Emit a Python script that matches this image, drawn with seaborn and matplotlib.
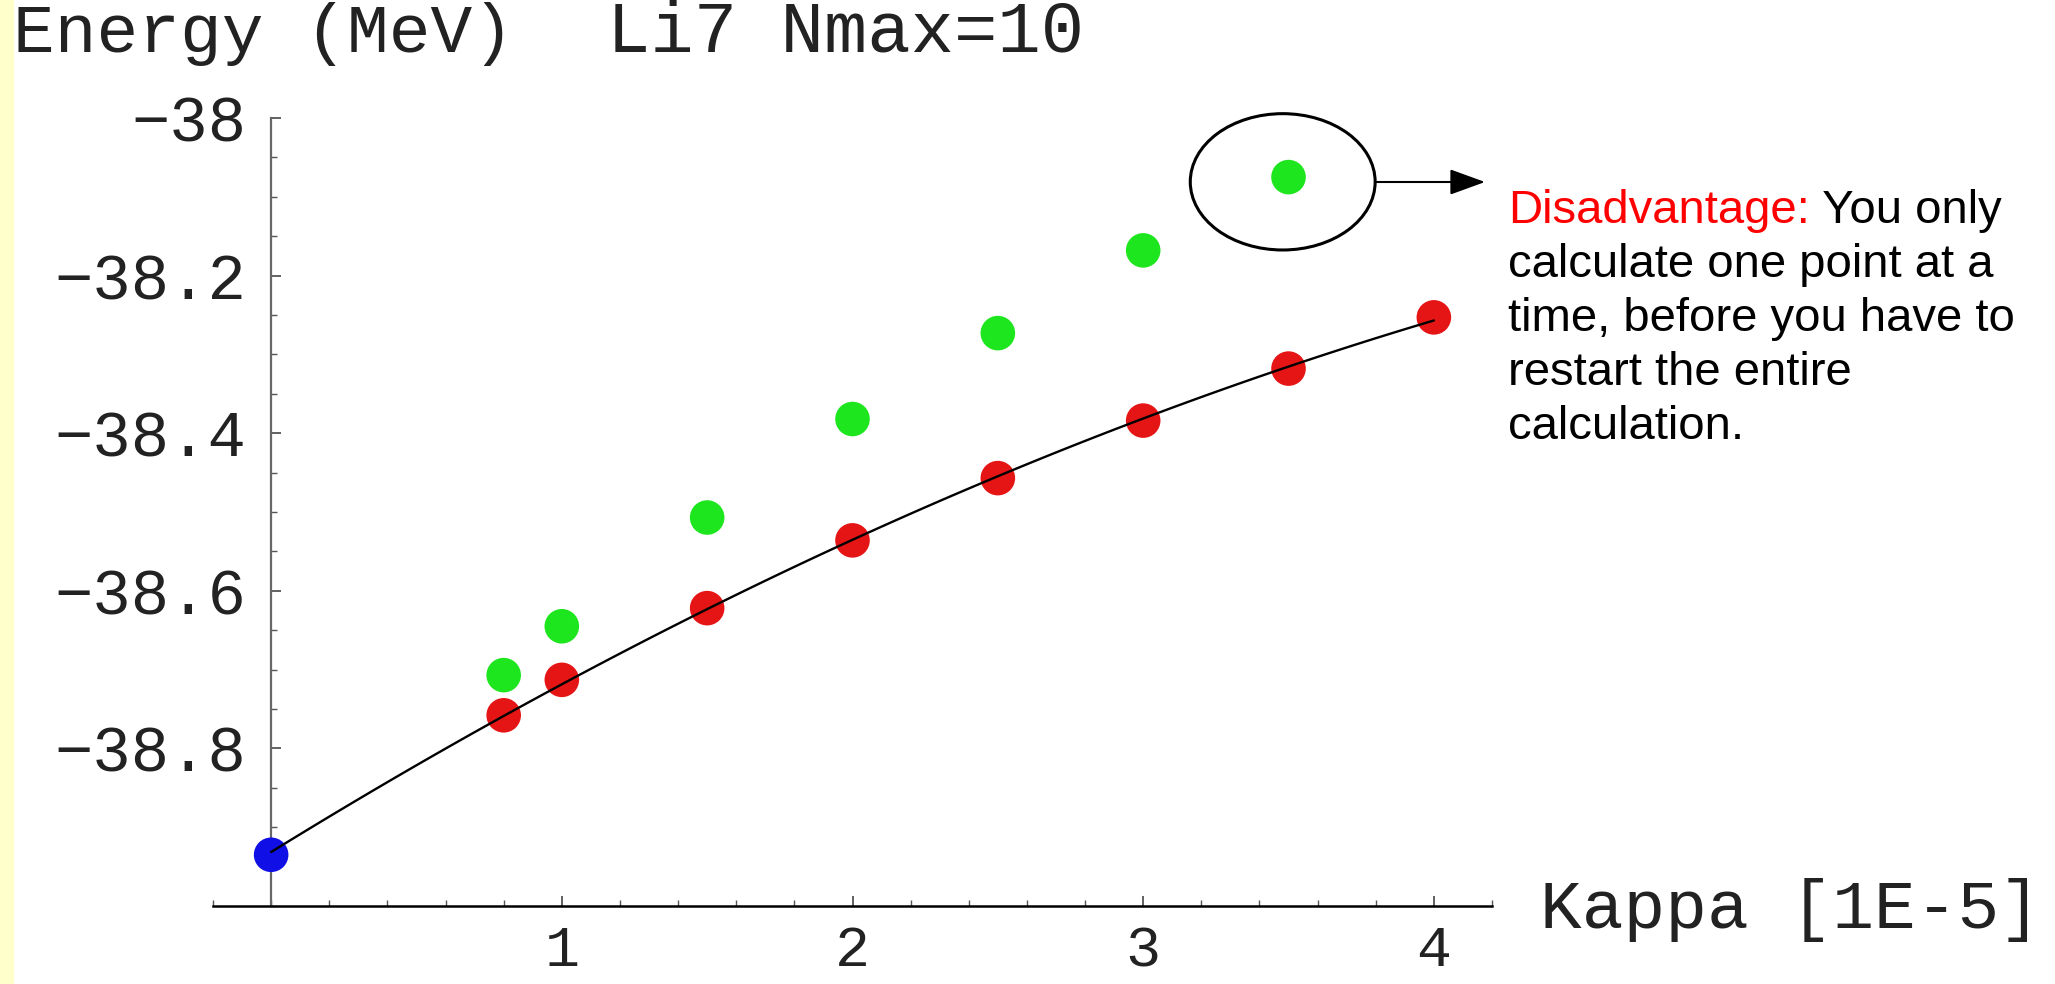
import numpy as np
import pandas as pd
import matplotlib
matplotlib.use("Agg")
import matplotlib.pyplot as plt
import seaborn as sns
from matplotlib.patches import Ellipse, Rectangle
from matplotlib.ticker import MultipleLocator

# ---- data ----
kappa_blue = [0.0]
energy_blue = [-38.935]
kappa_red = [0.8, 1.0, 1.5, 2.0, 2.5, 3.0, 3.5, 4.0]
energy_red = [-38.758, -38.713, -38.622, -38.536, -38.457, -38.384, -38.318, -38.253]
kappa_green = [0.8, 1.0, 1.5, 2.0, 2.5, 3.0, 3.5]
energy_green = [-38.707, -38.645, -38.507, -38.382, -38.273, -38.168, -38.075]

x_ticks = [1, 2, 3, 4]
x_tick_labels = ["1", "2", "3", "4"]
y_ticks = [-38.8, -38.6, -38.4, -38.2, -38.0]
y_tick_labels = ["\u221238.8", "\u221238.6", "\u221238.4", "\u221238.2", "\u221238"]

title_text = "Li7 Nmax=10"
y_label = "Energy (MeV)"
x_label = "Kappa [1E-5]"
note_red = "Disadvantage:"
note_lines = [" You only", "calculate one point at a", "time, before you have to",
              "restart the entire", "calculation."]

sns.set_style("white")
plt.rcParams["font.family"] = ["Liberation Mono", "DejaVu Sans"]

W, H = 2055, 984
fig = plt.figure(figsize=(W / 100, H / 100), dpi=100)
fig.patch.set_facecolor("white")
fig.patches.append(Rectangle((0, 0), 13 / W, 1, transform=fig.transFigure,
                             color="#ffffcc", zorder=-1))

# axes: x from -0.2 to 4.2 (213..1492 px), y from -39 (906 px) to -38 (118 px)
ax = fig.add_axes([213 / W, (H - 906) / H, (1492 - 213) / W, (906 - 118) / H])
ax.set_facecolor("none")

df = pd.DataFrame({
    "kappa": kappa_blue + kappa_red + kappa_green,
    "energy": energy_blue + energy_red + energy_green,
    "series": ["blue"] * len(kappa_blue) + ["red"] * len(kappa_red) + ["green"] * len(kappa_green),
})
pal = {"blue": "#1010e6", "red": "#e61515", "green": "#1ee61e"}

fit_df = df[df["series"].isin(["blue", "red"])]
sns.regplot(data=fit_df, x="kappa", y="energy", order=2, ci=None, scatter=False,
            truncate=True, line_kws=dict(color="black", lw=1.7, zorder=5), ax=ax)

sns.scatterplot(data=df, x="kappa", y="energy", hue="series", palette=pal, s=620,
                linewidth=0, legend=False, zorder=4, clip_on=False, ax=ax)

ax.set_xlim(-0.2, 4.2)
ax.set_ylim(-39, -38)
ax.set_xlabel("")
ax.set_ylabel("")

for s in ["top", "right"]:
    ax.spines[s].set_visible(False)
ax.spines["left"].set_position(("data", 0))
ax.spines["left"].set_color("#666666")
ax.spines["left"].set_linewidth(1.6)
ax.spines["bottom"].set_color("black")
ax.spines["bottom"].set_linewidth(1.8)

ax.set_xticks(x_ticks, x_tick_labels)
ax.set_yticks(y_ticks, y_tick_labels)
ax.xaxis.set_minor_locator(MultipleLocator(0.2))
ax.yaxis.set_minor_locator(MultipleLocator(0.05))
ax.tick_params(axis="both", which="both", direction="in", color="#555555",
               bottom=True, left=True, top=False, right=False)
ax.tick_params(axis="x", which="major", length=7, width=1.3, pad=13, labelsize=42)
ax.tick_params(axis="x", which="minor", length=4, width=1.0)
ax.tick_params(axis="y", which="major", length=7, width=1.3, pad=18, labelsize=46)
ax.tick_params(axis="y", which="minor", length=4, width=1.0)
for lab in ax.get_xticklabels() + ax.get_yticklabels():
    lab.set_color("#222222")

fig.text(13 / W, 1 - 52 / H, y_label, fontsize=50, va="baseline", ha="left", color="#222222")
fig.text(607 / W, 1 - 52 / H, title_text, fontsize=52, va="baseline", ha="left", color="#222222")
fig.text(1540 / W, 1 - 928 / H, x_label, fontsize=50, va="baseline", ha="left", color="#222222")

# annotation ellipse + arrow
ax.add_patch(Ellipse((3.48, -38.081), width=0.636, height=0.173, fill=False,
                     lw=2.2, ec="black", clip_on=False, zorder=6))
ax.annotate("", xy=(1485 / W, 1 - 182 / H), xytext=(1376 / W, 1 - 182 / H),
            xycoords="figure fraction", textcoords="figure fraction",
            arrowprops=dict(arrowstyle="-|>,head_length=1.1,head_width=0.4",
                            mutation_scale=20, lw=1.5, color="black",
                            shrinkA=0, shrinkB=0))

sans = ["Liberation Sans", "DejaVu Sans"]
baselines = [223, 277, 331, 385, 439]
red = fig.text(1508 / W, 1 - baselines[0] / H, note_red, fontsize=34, family=sans,
               color="#ff0000", va="baseline", ha="left")
fig.canvas.draw()
bb = red.get_window_extent()
fig.text(bb.x1 / W, 1 - baselines[0] / H, note_lines[0], fontsize=34, family=sans,
         color="black", va="baseline", ha="left")
for line, b in zip(note_lines[1:], baselines[1:]):
    fig.text(1508 / W, 1 - b / H, line, fontsize=34, family=sans, color="black",
             va="baseline", ha="left")

fig.savefig("out.png", dpi=100)
